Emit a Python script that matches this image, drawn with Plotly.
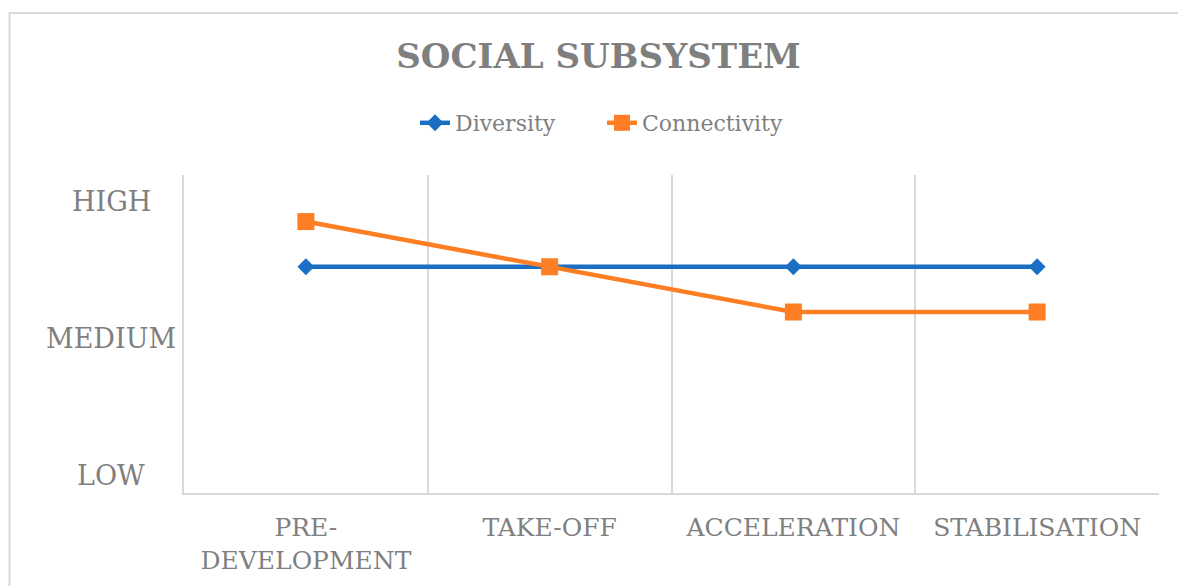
import plotly.graph_objects as go

stages = ["PRE-<br>DEVELOPMENT", "TAKE-OFF", "ACCELERATION", "STABILISATION"]
diversity = [2.52, 2.52, 2.52, 2.52]
connectivity = [2.85, 2.52, 2.19, 2.19]
level_vals = [1, 2, 3]
level_text = ["LOW", "MEDIUM", "HIGH"]

GRAY = "#7f7f7f"
GRID = "#d9d9d9"
BLUE = "#1a6fc4"
ORANGE = "#fd7e23"
FONT = "DejaVu Serif"

W, H = 1178, 578
L, T, PW, PH = 176, 167, 975, 318

fig = go.Figure()
fig.add_trace(go.Scatter(
    x=stages, y=diversity, name="Diversity", mode="lines+markers",
    line=dict(color=BLUE, width=4.5),
    marker=dict(symbol="diamond", size=13, color=BLUE),
))
fig.add_trace(go.Scatter(
    x=stages, y=connectivity, name="Connectivity", mode="lines+markers",
    line=dict(color=ORANGE, width=4.5),
    marker=dict(symbol="square", size=17, color=ORANGE),
))

for v, t in zip(level_vals, level_text):
    fig.add_annotation(
        x=(103 - L) / PW, xref="paper", y=v, yref="y",
        text=t, showarrow=False, xanchor="center", yanchor="middle",
        font=dict(family=FONT, size=27, color=GRAY),
    )

# outer chart border (top and left visible)
bx0 = (1.5 - L) / PW
by_top = (T + PH - 5) / PH
by_bot = -(H - T - PH + 20) / PH
bx1 = (W + 20 - L) / PW
fig.add_shape(type="path", xref="paper", yref="paper",
              path=f"M {bx0} {by_bot} L {bx0} {by_top} L {bx1} {by_top}",
              line=dict(color=GRID, width=2))

fig.update_layout(
    width=W, height=H,
    margin=dict(l=L, r=W - L - PW, t=T, b=H - T - PH, autoexpand=False),
    paper_bgcolor="white", plot_bgcolor="white",
    title=dict(text="<b>SOCIAL SUBSYSTEM</b>", xref="container", x=590.5 / W,
               y=1 - 48 / H, yanchor="middle", xanchor="center",
               font=dict(family=FONT, size=34, color=GRAY)),
    legend=dict(orientation="h", xref="container", yref="container",
                x=594 / W, xanchor="center", y=1 - 115 / H, yanchor="middle",
                font=dict(family=FONT, size=22, color=GRAY),
                itemwidth=30, entrywidth=142, tracegroupgap=0,
                bgcolor="rgba(0,0,0,0)"),
    showlegend=True,
)
fig.update_xaxes(
    type="category", tickson="boundaries", showgrid=True,
    gridcolor=GRID, gridwidth=1.5, showline=True, linecolor=GRID, linewidth=2,
    ticks="", tickangle=0, ticklabelstandoff=11, automargin=False,
    tickfont=dict(family=FONT, size=25, color=GRAY), zeroline=False,
    range=[-0.5, 3.5],
)
fig.update_yaxes(
    range=[0.869, 3.19], tickvals=level_vals, ticktext=level_text,
    showticklabels=False, showgrid=False, zeroline=False, automargin=False,
    showline=True, linecolor=GRID, linewidth=2,
)

fig.write_html("out.html")
